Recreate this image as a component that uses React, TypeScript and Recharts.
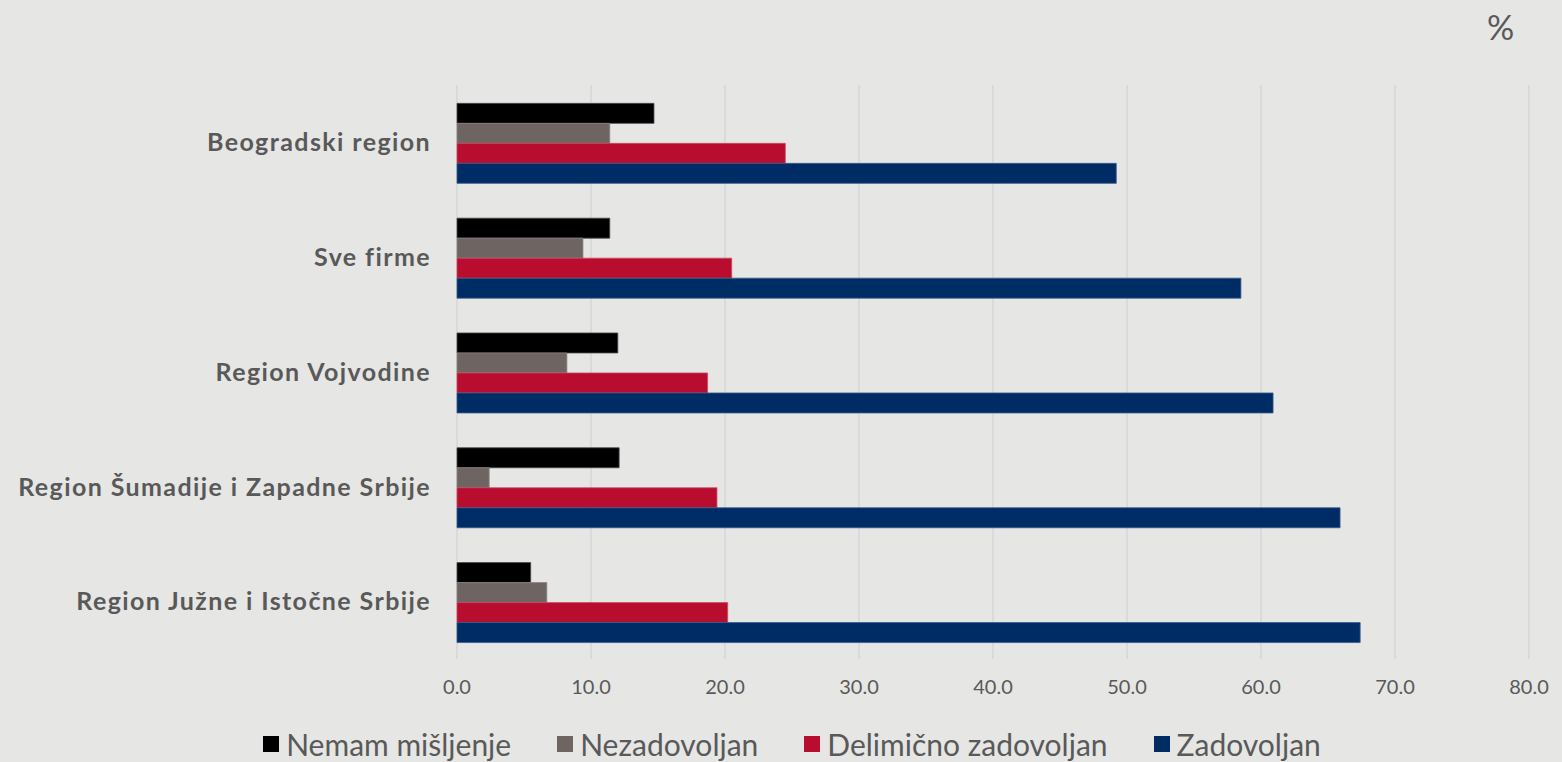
import { BarChart, Bar, XAxis, YAxis, CartesianGrid } from "recharts"

// kategorije (odozgo nadole)
const categories = [
  "Beogradski region",
  "Sve firme",
  "Region Vojvodine",
  "Region Šumadije i Zapadne Srbije",
  "Region Južne i Istočne Srbije",
]

// vrednosti u %
const nemamMisljenje = [14.7, 11.4, 12.0, 12.1, 5.5]
const nezadovoljan = [11.4, 9.4, 8.2, 2.4, 6.7]
const delimicno = [24.5, 20.5, 18.7, 19.4, 20.2]
const zadovoljan = [49.2, 58.5, 60.9, 65.9, 67.4]

const xTicks = [0, 10, 20, 30, 40, 50, 60, 70, 80]

const SERIES = [
  { key: "nemam", label: "Nemam mišljenje", color: "#000000", stroke: "#4a4a4a" },
  { key: "nezad", label: "Nezadovoljan", color: "#6e6562", stroke: "#8a8280" },
  { key: "delim", label: "Delimično zadovoljan", color: "#b90d2f", stroke: "#cc4a60" },
  { key: "zad", label: "Zadovoljan", color: "#002c66", stroke: "#3a5a8a" },
]

const FONT = "Lato, 'Open Sans', sans-serif"
const TEXT = "#595959"
const BG = "#e6e6e5"

export default function App() {
  const data = categories.map((name, i) => ({
    name,
    nemam: nemamMisljenje[i],
    nezad: nezadovoljan[i],
    delim: delimicno[i],
    zad: zadovoljan[i],
  }))

  return (
    <div
      style={{
        position: "fixed",
        left: 0,
        top: 0,
        width: 1562,
        height: 762,
        background: BG,
        fontFamily: FONT,
        overflow: "hidden",
      }}
    >
      {/* oznaka jedinice gore desno */}
      <div style={{ position: "absolute", left: 1487, top: 6, fontSize: 34, color: TEXT }}>%</div>

      <BarChart
        width={1562}
        height={762}
        data={data}
        layout="vertical"
        margin={{ top: 85, right: 33, bottom: 63, left: 0 }}
        barCategoryGap="16%"
        barGap={0}
      >
        <CartesianGrid horizontal={false} stroke="#d6d6d6" strokeWidth={1.5} />
        <XAxis
          type="number"
          domain={[0, 80]}
          ticks={xTicks}
          tickFormatter={(v: number) => v.toFixed(1)}
          axisLine={false}
          tickLine={false}
          tickSize={0}
          tickMargin={21}
          height={40}
          tick={{ fontSize: 20, fill: TEXT, fontFamily: FONT }}
        />
        <YAxis
          type="category"
          dataKey="name"
          width={457}
          axisLine={false}
          tickLine={false}
          tickSize={0}
          tickMargin={26}
          tick={{ fontSize: 25, fill: TEXT, fontWeight: 700, fontFamily: FONT, letterSpacing: 1.4 }}
        />
        {SERIES.map((s) => (
          <Bar
            key={s.key}
            dataKey={s.key}
            name={s.label}
            fill={s.color}
            stroke={s.stroke}
            strokeWidth={0.8}
            isAnimationActive={false}
          />
        ))}
      </BarChart>

      {/* legenda */}
      <div
        style={{
          position: "absolute",
          left: 0,
          top: 724,
          width: 1562,
          display: "flex",
          justifyContent: "center",
          paddingLeft: 22,
          boxSizing: "border-box",
          gap: 46,
          fontSize: 30,
          color: TEXT,
          lineHeight: "40px",
        }}
      >
        {SERIES.map((s) => (
          <div key={s.key} style={{ display: "flex", alignItems: "center", gap: 7 }}>
            <span style={{ width: 16, height: 16, background: s.color, display: "inline-block" }} />
            <span>{s.label}</span>
          </div>
        ))}
      </div>
    </div>
  )
}
